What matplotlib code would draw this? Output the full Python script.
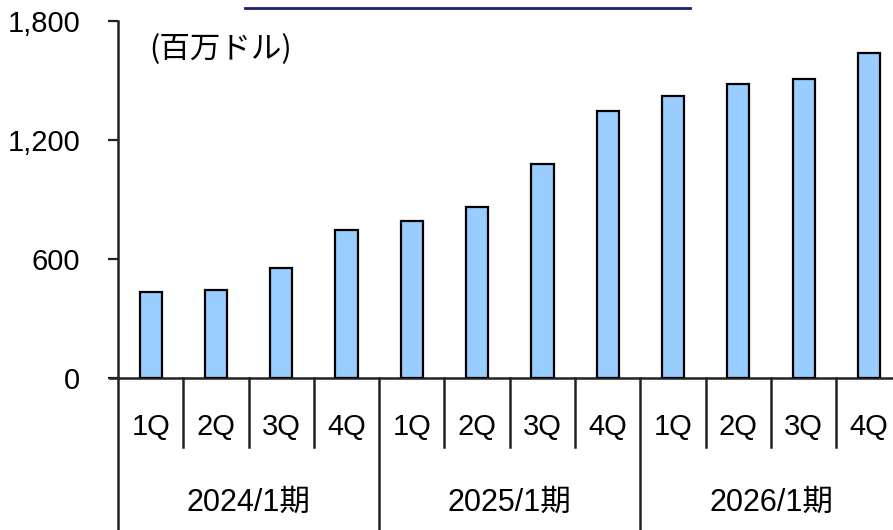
import matplotlib
matplotlib.use('Agg')
import matplotlib.pyplot as plt
import matplotlib.transforms as mtransforms

# data
quarters = ['1Q', '2Q', '3Q', '4Q'] * 3
years = ['2024/1期', '2025/1期', '2026/1期']
values = [434, 446, 555, 745, 792, 863, 1077, 1348, 1422, 1481, 1510, 1638]
yticks = [0, 600, 1200, 1800]
unit_label = '(百万ドル)'

plt.rcParams['font.family'] = ['Liberation Sans', 'Noto Sans CJK JP']

W, H = 893, 530
fig = plt.figure(figsize=(W / 100, H / 100), dpi=100)
# axis at x=118px, zero at y=378px, 1800 at y=21px, 65.3px per category
left = 118 / W
bottom = (H - 378) / H
height = 357 / H
width = 12 * 65.3 / W
ax = fig.add_axes([left, bottom, width, height])

x = list(range(len(values)))
ax.bar(x, values, width=0.34, color='#99CCFF', edgecolor='black', linewidth=1.6, zorder=3)

ax.set_xlim(-0.5, 11.5)
ax.set_ylim(0, 1800)
ax.set_yticks(yticks)
ax.set_yticklabels(['{:,}'.format(v) for v in yticks], fontsize=21)
ax.tick_params(axis='y', direction='out', length=7, width=1.6, pad=20, color='#222222')
ax.set_xticks([])
for s in ['top', 'right']:
    ax.spines[s].set_visible(False)
for s in ['left', 'bottom']:
    ax.spines[s].set_linewidth(1.8)
    ax.spines[s].set_color('#222222')
ax.spines['bottom'].set_bounds(-0.62, 12)

trans = mtransforms.blended_transform_factory(ax.transData, ax.transAxes)
px = 1 / 357
# separators below the axis
for i in range(13):
    if i % 4 == 0:
        y0 = -(H - 378) * px
    else:
        y0 = -(447 - 378) * px
    ax.plot([i - 0.5, i - 0.5], [0, y0], color='#222222', lw=1.8,
            transform=trans, clip_on=False)

for i, q in enumerate(quarters):
    ax.text(i, -(427 - 378) * px, q, transform=trans, ha='center', va='center',
            fontsize=21)
for j, yr in enumerate(years):
    ax.text(4 * j + 1.5, -(503 - 378) * px, yr, transform=trans, ha='center',
            va='center', fontsize=22)

fig.text(221 / W, 1 - 50 / H, unit_label, ha='center', va='center', fontsize=22,
         family=['Noto Sans CJK JP'])

# underline of the cut-off title at the top
fig.add_artist(plt.Line2D([245 / W, 690 / W], [1 - 8 / H, 1 - 8 / H],
                          color='#1F1F6F', lw=2))

fig.savefig('out.png', dpi=100)
